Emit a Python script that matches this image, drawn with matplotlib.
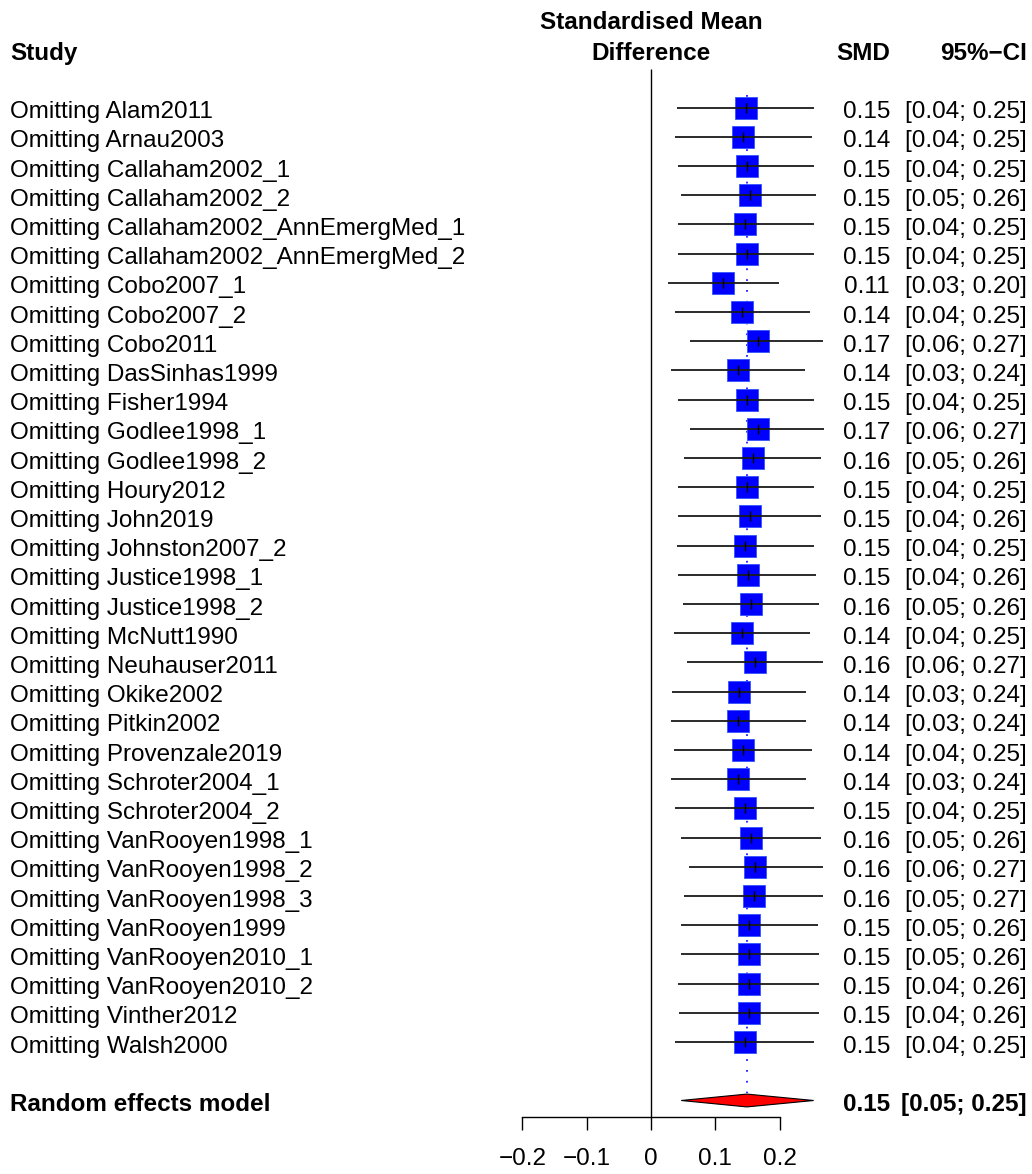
import matplotlib
matplotlib.use("Agg")
import matplotlib.pyplot as plt
import matplotlib.transforms as mtransforms
import numpy as np

plt.rcParams['font.family'] = ['Liberation Sans', 'DejaVu Sans']

studies = ["Alam2011", "Arnau2003", "Callaham2002_1", "Callaham2002_2",
           "Callaham2002_AnnEmergMed_1", "Callaham2002_AnnEmergMed_2",
           "Cobo2007_1", "Cobo2007_2", "Cobo2011", "DasSinhas1999",
           "Fisher1994", "Godlee1998_1", "Godlee1998_2", "Houry2012",
           "John2019", "Johnston2007_2", "Justice1998_1", "Justice1998_2",
           "McNutt1990", "Neuhauser2011", "Okike2002", "Pitkin2002",
           "Provenzale2019", "Schroter2004_1", "Schroter2004_2",
           "VanRooyen1998_1", "VanRooyen1998_2", "VanRooyen1998_3",
           "VanRooyen1999", "VanRooyen2010_1", "VanRooyen2010_2",
           "Vinther2012", "Walsh2000"]
smd = [0.147, 0.1437, 0.1488, 0.1535, 0.146, 0.149, 0.1115, 0.142, 0.166, 0.136,
       0.149, 0.166, 0.158, 0.149, 0.154, 0.146, 0.151, 0.1555, 0.1415, 0.162,
       0.137, 0.136, 0.1437, 0.136, 0.146, 0.1555, 0.162, 0.160, 0.153, 0.153,
       0.153, 0.153, 0.146]
lo = [0.040, 0.0378, 0.0425, 0.0466, 0.0425, 0.0425, 0.026, 0.0378, 0.0607, 0.0306,
      0.0425, 0.0607, 0.0513, 0.0425, 0.0425, 0.040, 0.0425, 0.049, 0.036, 0.056,
      0.0332, 0.0306, 0.0353, 0.0306, 0.0378, 0.046, 0.0586, 0.0513, 0.046, 0.046,
      0.0425, 0.044, 0.0378]
hi = [0.253, 0.251, 0.253, 0.257, 0.253, 0.253, 0.1996, 0.248, 0.267, 0.2395,
      0.254, 0.269, 0.264, 0.254, 0.264, 0.253, 0.257, 0.262, 0.248, 0.267,
      0.2416, 0.2416, 0.251, 0.2416, 0.253, 0.264, 0.267, 0.267, 0.2597, 0.262,
      0.262, 0.262, 0.253]
pooled, pooled_lo, pooled_hi = 0.149, 0.047, 0.253
xticks = [-0.2, -0.1, 0, 0.1, 0.2]
xticklabels = ["\u22120.2", "\u22120.1", "0", "0.1", "0.2"]

W, H = 1032, 1174
fig = plt.figure(figsize=(W / 100, H / 100), dpi=100)
ax = fig.add_axes([0, (H - 1117) / H, 1, 1117 / H])

# pixel layout: x_px = 651 + 643 * value, y_px = 107.7 + 29.2 * row
ax.set_xlim(-651 / 643, (W - 651) / 643)
ax.set_ylim((1117 - 107.7) / 29.2, -107.7 / 29.2)

rows = np.arange(len(studies))
pool_row = len(studies) + 1

ax.vlines(0, -1.33, ax.get_ylim()[0], color="black", lw=1.0, zorder=1)
ax.vlines(pooled, -0.45, pool_row - 0.25, color="#2020ff", lw=1.3,
          linestyles=(0, (1, 5)), zorder=1)

ax.scatter(smd, rows, marker="s", s=265, color="#0000ff",
           edgecolors="#3355ff", linewidths=0.6, zorder=2)
ax.hlines(rows, lo, hi, color="#1a1a1a", lw=1.3, zorder=3)
ax.scatter(smd, rows, marker="|", s=45, color="black", linewidths=1.0, zorder=4)

dh = 0.22
ax.fill([pooled_lo, pooled, pooled_hi, pooled],
        [pool_row, pool_row - dh, pool_row, pool_row + dh],
        facecolor="#ff0000", edgecolor="black", lw=0.8, zorder=3)

for s in ["left", "right", "top"]:
    ax.spines[s].set_visible(False)
ax.spines["bottom"].set_bounds(-0.2, 0.2)
ax.spines["bottom"].set_linewidth(1.0)
ax.set_yticks([])
ax.set_xticks(xticks)
ax.set_xticklabels(xticklabels)
ax.tick_params(axis="x", direction="out", length=9.4, width=1.0, pad=13,
               labelsize=17.5, colors="black")

tr = mtransforms.blended_transform_factory(fig.transFigure, ax.transData)
fs = 17.5
off = 0.36

for i, name in enumerate(studies):
    ax.text(10 / W, i + off, "Omitting " + name, transform=tr, fontsize=fs,
            va="baseline", ha="left")
    ax.text(890 / W, i + off, f"{smd[i]:.2f}", transform=tr, fontsize=fs,
            va="baseline", ha="right")
    ax.text(1027 / W, i + off, f"[{lo[i]:.2f}; {hi[i]:.2f}]", transform=tr,
            fontsize=fs, va="baseline", ha="right")

ax.text(10 / W, pool_row + off, "Random effects model", transform=tr,
        fontsize=fs, fontweight="bold", va="baseline", ha="left")
ax.text(890 / W, pool_row + off, f"{pooled:.2f}", transform=tr, fontsize=fs,
        fontweight="bold", va="baseline", ha="right")
ax.text(1027 / W, pool_row + off, f"[{pooled_lo:.2f}; {pooled_hi:.2f}]",
        transform=tr, fontsize=fs, fontweight="bold", va="baseline", ha="right")

hdr = (60 - 107.7) / 29.2
hdr2 = (29 - 107.7) / 29.2
ax.text(10 / W, hdr, "Study", transform=tr, fontsize=fs, fontweight="bold",
        va="baseline", ha="left")
ax.text(0, hdr2, "Standardised Mean", fontsize=fs, fontweight="bold",
        va="baseline", ha="center")
ax.text(0, hdr, "Difference", fontsize=fs, fontweight="bold",
        va="baseline", ha="center")
ax.text(890 / W, hdr, "SMD", transform=tr, fontsize=fs, fontweight="bold",
        va="baseline", ha="right")
ax.text(1027 / W, hdr, "95%\u2212CI", transform=tr, fontsize=fs,
        fontweight="bold", va="baseline", ha="right")

fig.savefig("out.png", dpi=100)
